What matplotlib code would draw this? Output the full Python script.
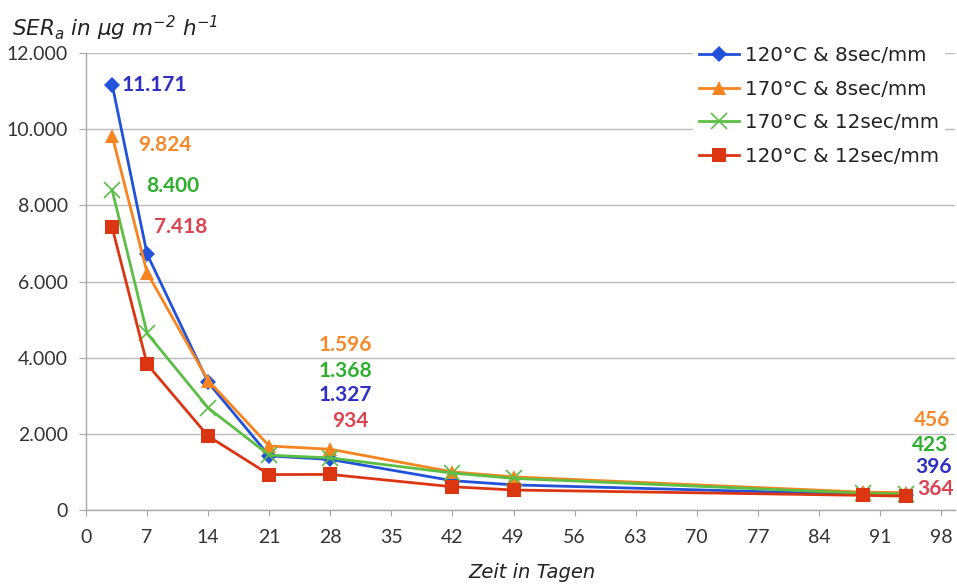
import matplotlib
matplotlib.use("Agg")
import matplotlib.pyplot as plt
from matplotlib.ticker import FuncFormatter

plt.rcParams['font.family'] = ['Lato', 'DejaVu Sans']
plt.rcParams['mathtext.fontset'] = 'custom'
plt.rcParams['mathtext.it'] = 'DejaVu Sans:italic'
plt.rcParams['mathtext.rm'] = 'DejaVu Sans:italic'

# Emission rate over time for four curing settings
days = [3, 7, 14, 21, 28, 42, 49, 89, 94]
ser_120_8 = [11171, 6720, 3350, 1420, 1327, 770, 660, 410, 396]
ser_170_8 = [9824, 6230, 3400, 1680, 1596, 1000, 870, 470, 456]
ser_170_12 = [8400, 4640, 2680, 1440, 1368, 970, 830, 440, 423]
ser_120_12 = [7418, 3830, 1940, 930, 934, 610, 525, 385, 364]

series_names = ["120°C & 8sec/mm", "170°C & 8sec/mm",
                "170°C & 12sec/mm", "120°C & 12sec/mm"]
x_ticks = list(range(0, 99, 7))
y_ticks = list(range(0, 12001, 2000))

# indices of the points that carry a value label
labelled = [0, 4, 8]

series = [ser_120_8, ser_170_8, ser_170_12, ser_120_12]
line_colors = ["#2152d9", "#f7841f", "#5cbf45", "#dc3512"]
text_colors = ["#2f2fc4", "#f68a2a", "#2eb02e", "#dc4350"]
markers = ["D", "^", "x", "s"]
msizes = [8, 10, 11, 10.5]

# label offsets (pixels) for each series at each labelled point
offsets = {
    0: [(9, 0, "left"), (26, -9, "left"), (34, 4, "left"), (42, 0, "left")],
    4: [(15, 64, "center"), (15, 104, "center"), (15, 87, "center"), (20, 53, "center")],
    8: [(27, 28, "center"), (26, 73, "center"), (24, 49, "center"), (29, 7, "center")],
}

W, H = 957, 586
fig = plt.figure(figsize=(W / 100, H / 100), dpi=100)
left, right, bottom, top = 86, 955, 510, 53
ax = fig.add_axes([left / W, (H - bottom) / H, (right - left) / W, (bottom - top) / H])

for i, (vals, name) in enumerate(zip(series, series_names)):
    kw = dict(marker=markers[i], markersize=msizes[i], color=line_colors[i],
              linewidth=2.0, label=name, zorder=3 + i)
    if markers[i] == "x":
        kw.update(markeredgewidth=1.2)
    else:
        kw.update(markeredgewidth=0)
    ax.plot(days, vals, **kw)

def fmt(v):
    return f"{v:,.0f}".replace(",", ".")

for idx in labelled:
    for i, vals in enumerate(series):
        dx, dy, ha = offsets[idx][i]
        ax.annotate(fmt(vals[idx]), xy=(days[idx], vals[idx]),
                    xytext=(dx, dy), textcoords="offset pixels",
                    ha=ha, va="center", fontsize=15, fontweight="bold",
                    color=text_colors[i], zorder=10)

ax.set_xlim(0, 99.6)
ax.set_ylim(0, 12000)
ax.set_xticks(x_ticks)
ax.set_yticks(y_ticks)
ax.yaxis.set_major_formatter(FuncFormatter(lambda v, p: fmt(v)))
ax.grid(axis="y", color="#bcbcbc", linewidth=1.0, zorder=0)
ax.set_axisbelow(True)
for s in ["top", "right"]:
    ax.spines[s].set_visible(False)
for s in ["left", "bottom"]:
    ax.spines[s].set_color("#a8a8a8")
    ax.spines[s].set_linewidth(1.0)
ax.tick_params(axis="x", length=4, color="#a8a8a8", pad=10, labelsize=14,
               labelcolor="#333333")
ax.tick_params(axis="y", length=5, color="#a8a8a8", pad=8, labelsize=14,
               labelcolor="#333333")

ax.set_xlabel("Zeit in Tagen", fontsize=14, fontstyle="italic", color="#222222",
              family="DejaVu Sans")
ax.xaxis.set_label_coords((532 - left) / (right - left), -0.115)

fig.text(12 / W, 1 - 36 / H, r"$SER_{a}$ in µg m$^{-2}$ h$^{-1}$",
         fontsize=15.5, fontstyle="italic", color="#222222", ha="left",
         va="baseline", family="DejaVu Sans")

leg = ax.legend(loc="upper left", bbox_to_anchor=(693 / W, 1 - 40 / H),
                bbox_transform=fig.transFigure,
                prop={"family": "DejaVu Sans", "size": 14.3}, frameon=True,
                facecolor="white", edgecolor="none", framealpha=1.0,
                labelspacing=0.74, handlelength=2.0, handletextpad=0.3,
                borderpad=0.3, borderaxespad=0)
for t in leg.get_texts():
    t.set_color("#222222")
leg.set_zorder(20)

fig.savefig("out.png", dpi=100, facecolor="white")
